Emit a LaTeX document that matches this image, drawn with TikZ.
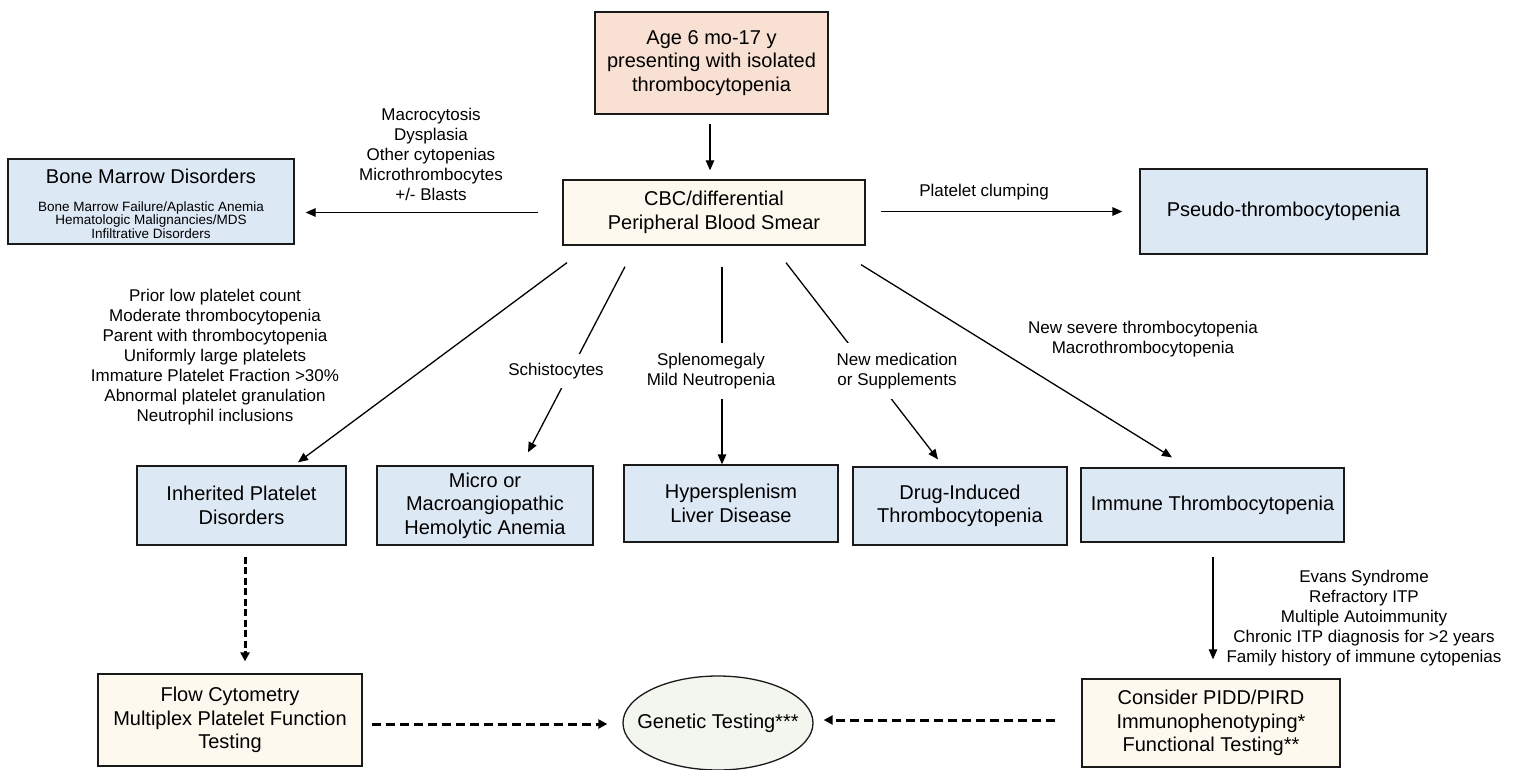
\documentclass[tikz,border=0pt]{standalone}
\usepackage{fontspec}
\setmainfont{Liberation Sans}
\usetikzlibrary{arrows.meta,calc,shapes.geometric}
\definecolor{peach}{HTML}{F8E0D3}
\definecolor{cream}{HTML}{FEF9EE}
\definecolor{lblue}{HTML}{DDE8F5}
\definecolor{egg}{HTML}{F3F6EE}
\definecolor{boxline}{HTML}{1A1A1A}
\begin{document}
\begin{tikzpicture}[x=1pt,y=-1pt,
  box/.style={draw=boxline,line width=1.3pt,inner sep=0pt,align=center,font=\fontsize{20}{23.5}\selectfont},
  lbl/.style={align=center,inner sep=2pt,font=\fontsize{17}{20}\selectfont},
  cover/.style={lbl,fill=white,inner ysep=10pt},
  arr/.style={line width=1.3pt,-{Triangle[length=10pt,width=8.5pt]}},
  darr/.style={line width=3pt,dash pattern=on 9pt off 5pt,-{Triangle[length=9pt,width=9pt]}},
  dvarr/.style={line width=3pt,dash pattern=on 7pt off 3.5pt,-{Triangle[length=9pt,width=9pt]}}]
\useasboundingbox[fill=white] (0,0) rectangle (1515,770);

% boxes
\node[box,fill=peach,minimum width=233pt,minimum height=102pt] (age) at (711.5,63)
  {Age 6 mo-17 y\\presenting with isolated\\thrombocytopenia};
\node[box,fill=cream,minimum width=302pt,minimum height=65pt] (cbc) at (714,212.5)
  {CBC/differential\\Peripheral Blood Smear};
\node[box,fill=lblue,minimum width=286pt,minimum height=85pt,font=\fontsize{13.5}{12.5}\selectfont] (bone) at (151,201.5)
  {{\fontsize{20}{23.5}\selectfont\rule{0pt}{19.5pt}Bone Marrow Disorders}\\[15pt]Bone Marrow Failure/Aplastic Anemia\\Hematologic Malignancies/MDS\\Infiltrative Disorders};
\node[box,fill=lblue,minimum width=287pt,minimum height=85pt] (pseudo) at (1283.5,211.5)
  {Pseudo-thrombocytopenia};
\node[box,fill=lblue,minimum width=209pt,minimum height=79pt] (inh) at (241.5,505.5)
  {Inherited Platelet\\Disorders};
\node[box,fill=lblue,minimum width=216pt,minimum height=79pt] (micro) at (485,505.5)
  {Micro or\\Macroangiopathic\\Hemolytic Anemia};
\node[box,fill=lblue,minimum width=214pt,minimum height=77pt] (hyper) at (731,503.5)
  {Hypersplenism\\Liver Disease};
\node[box,fill=lblue,minimum width=214pt,minimum height=78pt] (drug) at (960,506)
  {Drug-Induced\\Thrombocytopenia};
\node[box,fill=lblue,minimum width=263pt,minimum height=74pt] (imm) at (1212.5,505)
  {Immune Thrombocytopenia};
\node[box,fill=cream,minimum width=264pt,minimum height=92pt] (flow) at (230,720)
  {Flow Cytometry\\Multiplex Platelet Function\\Testing};
\node[box,ellipse,fill=egg,minimum width=190pt,minimum height=94pt] (gen) at (718,723)
  {\makebox[0pt]{Genetic Testing***}};
\node[box,fill=cream,minimum width=258pt,minimum height=88pt] (pidd) at (1211,723)
  {Consider PIDD/PIRD\\Immunophenotyping*\\Functional Testing**};

% connectors
\draw[arr] ($(age.south)+(-1.5,9)$) -- ($(cbc.north)+(-4,-9)$);
\draw[arr] ($(cbc.west)+(-24,0)$) -- ($(bone.east |- cbc.west)+(11,0)$);
\draw[arr] ($(cbc.east)+(15,-1)$) -- ($(pseudo.west |- cbc.east)+(-17,-1)$);
\draw[arr] ($(cbc.south)+(-147,17)$) -- ($(inh.north)+(56.5,-3)$);
\draw[arr] ($(cbc.south)+(-89,21)$) -- ($(micro.north)+(43,-13)$);
\draw[arr] ($(cbc.south)+(8,21)$) -- ($(hyper.north)+(-9,0)$);
\draw[arr] ($(cbc.south)+(72,17)$) -- ($(drug.north)+(-22,-7)$);
\draw[arr] ($(cbc.south)+(147,19)$) -- ($(imm.north)+(-40.5,-10)$);
\draw[arr] ($(imm.south)+(0.5,14)$) -- ($(pidd.north)+(2,-19)$);
\draw[dvarr] ($(inh.south)+(3.5,11)$) -- ($(flow.north)+(15,-12)$);
\draw[darr] ($(flow.east)+(9,4)$) -- ($(gen.west)+(-15,1)$);
\draw[darr] ($(pidd.west)+(-26,-3)$) -- ($(gen.east)+(10,-3)$);

% labels
\node[lbl] (lbone) at (431,154) {Macrocytosis\\Dysplasia\\Other cytopenias\\Microthrombocytes\\+/- Blasts};
\node[lbl] (lclump) at (984,192) {Platelet clumping};
\node[lbl] (linh) at (215,357.5) {Prior low platelet count\\Moderate thrombocytopenia\\Parent with thrombocytopenia\\Uniformly large platelets\\Immature Platelet Fraction >30\%\\Abnormal platelet granulation\\Neutrophil inclusions};
\node[cover,inner ysep=9pt] (lschis) at (556,371) {Schistocytes};
\node[cover] (lspl) at (711,371) {Splenomegaly\\Mild Neutropenia};
\node[cover] (lmed) at (897,371) {New medication\\or Supplements};
\node[lbl] (limm) at (1143,339.5) {New severe thrombocytopenia\\Macrothrombocytopenia};
\node[lbl] (lpidd) at (1364,618) {Evans Syndrome\\Refractory ITP\\Multiple Autoimmunity\\Chronic ITP diagnosis for >2 years\\Family history of immune cytopenias};
\end{tikzpicture}
\end{document}
